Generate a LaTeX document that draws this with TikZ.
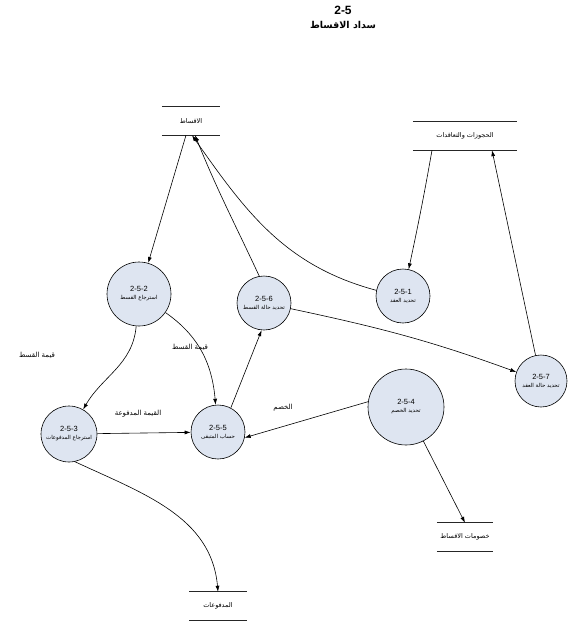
\documentclass[tikz,border=0pt]{standalone}
\usepackage{fontspec}
\setmainfont{Liberation Sans}
\newfontfamily\arabicfont[Script=Arabic]{DejaVu Sans}
\TeXXeTstate=1
\usetikzlibrary{arrows.meta}
\newcommand{\artxt}[1]{{\arabicfont\beginR #1\endR}}
\definecolor{procfill}{RGB}{222,229,241}
\begin{document}
\begin{tikzpicture}[x=1pt,y=1pt,
  proc/.style={circle,draw=black,line width=0.6pt,fill=procfill,inner sep=0pt,align=center,font=\fontsize{7.5}{9}\selectfont},
  store/.style={inner sep=0pt,minimum height=28pt,font=\fontsize{6.5}{8}\selectfont},
  storeline/.style={line width=0.9pt,black!85},
  arr/.style={-{Latex[length=6pt,width=4pt]},line width=0.6pt},
  lbl/.style={inner sep=1pt,font=\fontsize{7}{8}\selectfont}
]
\useasboundingbox (0,0) rectangle (576,-632);

% title
\node[font=\bfseries\fontsize{12}{13}\selectfont] (t1) at (343,-10) {2-5};
\node[font=\bfseries\fontsize{9.5}{11}\selectfont] (t2) at (343,-25) {\artxt{سداد الاقساط}};

% data stores
\node[store,minimum width=58pt] (sA) at (191,-121) {\artxt{الاقساط}};
\node[store,minimum width=104pt] (sB) at (465,-136) {\artxt{الحجوزات والتعاقدات}};
\node[store,minimum width=56pt] (sC) at (465,-537) {\artxt{خصومات الاقساط}};
\node[store,minimum width=57pt] (sD) at (218,-606) {\artxt{المدفوعات}};
\foreach \s in {sA,sB,sC,sD}{
  \draw[storeline] (\s.north west) -- (\s.north east);
  \draw[storeline] (\s.south west) -- (\s.south east);
}

% processes
\node[proc,minimum size=64pt] (c2) at (139,-294) {2-5-2\\[-1pt]{\fontsize{5.5}{7}\selectfont\artxt{استرجاع القسط}}};
\node[proc,minimum size=54pt] (c6) at (264,-303) {2-5-6\\[-1pt]{\fontsize{5.5}{7}\selectfont\artxt{تحديد حالة القسط}}};
\node[proc,minimum size=54pt] (c1) at (403,-296) {2-5-1\\[-1pt]{\fontsize{5.5}{7}\selectfont\artxt{تحديد العقد}}};
\node[proc,minimum size=52pt] (c7) at (541,-381) {2-5-7\\[-1pt]{\fontsize{5.5}{7}\selectfont\artxt{تحديد حالة العقد}}};
\node[proc,minimum size=76pt] (c4) at (406,-407) {2-5-4\\[-1pt]{\fontsize{5.5}{7}\selectfont\artxt{تحديد الخصم}}};
\node[proc,minimum size=56pt] (c3) at (69,-434) {2-5-3\\[-1pt]{\fontsize{5.5}{7}\selectfont\artxt{استرجاع المدفوعات}}};
\node[proc,minimum size=54pt] (c5) at (218,-432) {2-5-5\\[-1pt]{\fontsize{5.5}{7}\selectfont\artxt{حساب المتبقى}}};

% flows
\draw[arr] ([xshift=-5pt]sA.south) -- (c2);
\draw[arr] (c6.100) to[out=115,in=-68] ([xshift=4pt]sA.south);
\draw[arr] (c1.168) to[out=165,in=-55] ([xshift=1pt]sA.south);
\draw[arr] ([xshift=-33pt]sB.south) to[out=-100,in=78] (c1);
\draw[arr] (c7) -- ([xshift=27pt]sB.south);
\draw[arr] (c6) to[out=-12,in=160] (c7);
\draw[arr] (c2) to[out=-95,in=60] (c3);
\draw[arr] (c2) to[out=-35,in=95] (c5);
\draw[arr] (c3) -- (c5);
\draw[arr] (c5.62) -- (c6.265);
\draw[arr] (c4.172) -- (c5.-12);
\draw[arr] (c4) -- (sC.north);
\draw[arr] (c3.-78) to[out=-25,in=95] (sD.north);

% labels
\node[lbl] (l1) at (37,-355) {\artxt{قيمة القسط}};
\node[lbl] (l2) at (190,-347) {\artxt{قيمة القسط}};
\node[lbl] (l3) at (138,-414) {\artxt{القيمة المدفوعة}};
\node[lbl] (l4) at (283,-408) {\artxt{الخصم}};
\end{tikzpicture}
\end{document}
